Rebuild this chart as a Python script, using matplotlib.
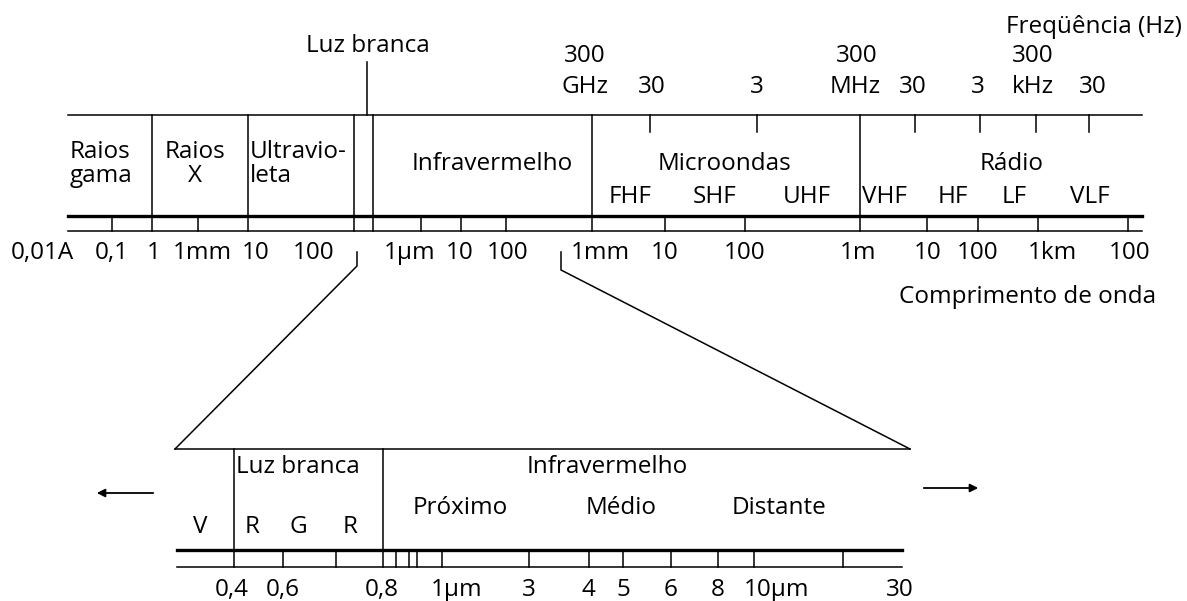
import matplotlib.pyplot as plt

plt.rcParams['font.family'] = ['Open Sans', 'DejaVu Sans']
FS = 17.5

# ---- upper scale: wavelength labels and tick positions (pixel layout) ----
top_wl_labels = ['0,01A', '0,1', '1', '1mm', '10', '100', '1µm', '10', '100',
                 '1mm', '10', '100', '1m', '10', '100', '1km', '100']
top_wl_label_x = [42, 112, 154, 202, 256, 314, 410, 460, 508,
                  600, 665, 745, 858, 928, 978, 1052, 1130]
top_wl_ticks = [112, 198, 421, 461, 506, 665, 745, 927, 978, 1038, 1128]
top_bounds = [152, 248, 354, 373, 592, 860]

# frequency scale
freq_top = ['300', '300', '300']
freq_top_x = [585, 857, 1033]
freq_bottom = ['GHz', '30', '3', 'MHz', '30', '3', 'kHz', '30']
freq_bottom_x = [585, 652, 757, 855, 913, 978, 1033, 1093]
freq_ticks = [650, 757, 915, 980, 1036, 1089]

# band names
bands = ['Raios\ngama', 'Raios\nX', 'Ultravio-\nleta', 'Infravermelho', 'Microondas', 'Rádio']
bands_x = [70, 195, 250, 492, 725, 1012]
bands_ha = ['left', 'center', 'left', 'center', 'center', 'center']
sub_bands = ['FHF', 'SHF', 'UHF', 'VHF', 'HF', 'LF', 'VLF']
sub_bands_x = [630, 715, 807, 884, 953, 1014, 1090]

# ---- lower (zoomed) scale ----
low_labels = ['0,4', '0,6', '0,8', '1µm', '3', '4', '5', '6', '8', '10µm', '30']
low_label_x = [232, 283, 382, 457, 529, 588, 623, 671, 718, 777, 900]
low_ticks = [283, 336, 396, 409, 417, 442, 529, 589, 623, 671, 718, 754, 843]
low_bounds = [234, 383]
colors = ['V', 'R', 'G', 'R']
colors_x = [200, 252, 298, 350]
ir_parts = ['Próximo', 'Médio', 'Distante']
ir_parts_x = [460, 621, 779]

fig = plt.figure(figsize=(11.87, 6.01), dpi=100)
ax = fig.add_axes([0, 0, 1, 1])
ax.set_xlim(0, 1187)
ax.set_ylim(601, 0)
ax.axis('off')

thin = 1.1
thick = 2.4
k = 'black'

# upper frame
ax.plot([68, 1142], [115, 115], color=k, lw=thin)
ax.plot([68, 1142], [216, 216], color=k, lw=thick)
ax.plot([68, 1142], [231, 231], color=k, lw=thin)
for x in top_bounds:
    ax.plot([x, x], [115, 231], color=k, lw=thin)
for x in top_wl_ticks:
    ax.plot([x, x], [216, 231], color=k, lw=thin)
for x in freq_ticks:
    ax.plot([x, x], [115, 132], color=k, lw=thin)
ax.plot([367, 367], [62, 115], color=k, lw=thin)

for lab, x in zip(top_wl_labels, top_wl_label_x):
    ax.text(x, 253, lab, ha='center', va='center', fontsize=FS)
for lab, x in zip(freq_top, freq_top_x):
    ax.text(x, 56, lab, ha='center', va='center', fontsize=FS)
for lab, x in zip(freq_bottom, freq_bottom_x):
    ax.text(x, 87, lab, ha='center', va='center', fontsize=FS)
for lab, x, ha in zip(bands, bands_x, bands_ha):
    ax.text(x, 164, lab, ha=ha, va='center', fontsize=FS, linespacing=1.0)
for lab, x in zip(sub_bands, sub_bands_x):
    ax.text(x, 197, lab, ha='center', va='center', fontsize=FS)

ax.text(368, 46, 'Luz branca', ha='center', va='center', fontsize=FS)
ax.text(1182, 27, 'Freqüência (Hz)', ha='right', va='center', fontsize=FS)
ax.text(1156, 297, 'Comprimento de onda', ha='right', va='center', fontsize=FS)

# zoom brackets
ax.plot([357, 357, 175], [252, 266, 449], color=k, lw=thin)
ax.plot([561, 561, 910], [252, 270, 449], color=k, lw=thin)

# lower frame
ax.plot([175, 910], [449, 449], color=k, lw=thin)
ax.plot([177, 902], [550, 550], color=k, lw=thick)
ax.plot([177, 902], [567, 567], color=k, lw=thin)
for x in low_bounds:
    ax.plot([x, x], [449, 567], color=k, lw=thin)
for x in low_ticks:
    ax.plot([x, x], [550, 567], color=k, lw=thin)

for lab, x in zip(low_labels, low_label_x):
    ax.text(x, 590, lab, ha='center', va='center', fontsize=FS)
for lab, x in zip(colors, colors_x):
    ax.text(x, 527, lab, ha='center', va='center', fontsize=FS)
for lab, x in zip(ir_parts, ir_parts_x):
    ax.text(x, 508, lab, ha='center', va='center', fontsize=FS)
ax.text(236, 467, 'Luz branca', ha='left', va='center', fontsize=FS)
ax.text(607, 467, 'Infravermelho', ha='center', va='center', fontsize=FS)

# arrows
ax.annotate('', xy=(94, 493), xytext=(156, 493),
            arrowprops=dict(arrowstyle='-|>', color=k, lw=1.3, mutation_scale=12))
ax.annotate('', xy=(981, 488), xytext=(921, 488),
            arrowprops=dict(arrowstyle='-|>', color=k, lw=1.3, mutation_scale=12))

fig.savefig('out.png', dpi=100, facecolor='white')
